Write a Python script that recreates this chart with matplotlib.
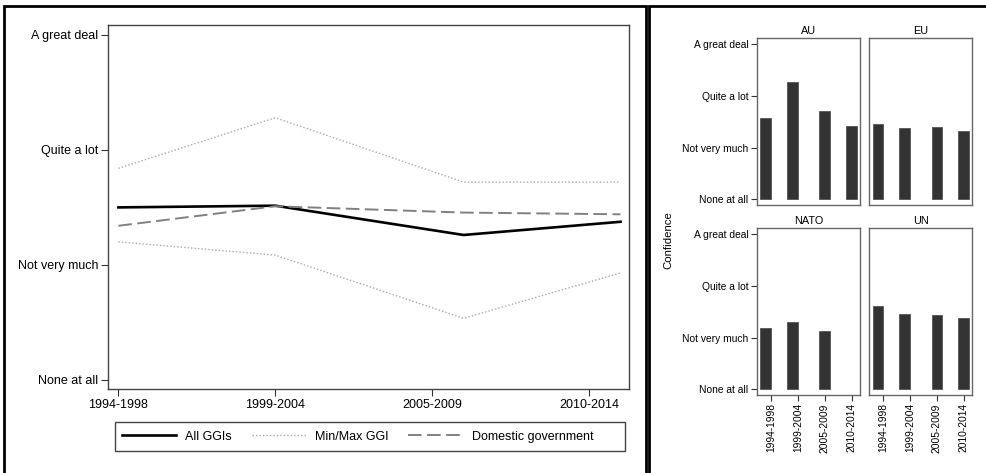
import matplotlib.pyplot as plt
from matplotlib.patches import Rectangle

plt.rcParams['font.family'] = ['Liberation Sans', 'DejaVu Sans']

# survey waves and the year each wave is plotted at
periods = ['1994-1998', '1999-2004', '2005-2009', '2010-2014']
survey_year = [1996, 2001, 2007, 2012]

levels = ['None at all', 'Not very much', 'Quite a lot', 'A great deal']

# left chart: mean confidence (1 = none at all, 4 = a great deal)
all_ggis = [2.50, 2.515, 2.26, 2.375]
max_ggi = [2.84, 3.28, 2.72, 2.72]
min_ggi = [2.20, 2.085, 1.535, 1.93]
domestic = [2.34, 2.51, 2.455, 2.44]

# right chart: mean confidence per organisation
orgs = ['AU', 'EU', 'NATO', 'UN']
org_conf = {
    'AU': [2.58, 3.27, 2.71, 2.41],
    'EU': [2.45, 2.38, 2.39, 2.32],
    'NATO': [2.19, 2.30, 2.12, None],
    'UN': [2.60, 2.46, 2.43, 2.38],
}

W, H = 986, 473
fig = plt.figure(figsize=(W / 100, H / 100), dpi=100)

def box(x0, y0, x1, y1):
    # pixel coords (top-left origin) -> figure fraction
    return [x0 / W, 1 - y1 / H, (x1 - x0) / W, (y1 - y0) / H]

fs_left = 9
fs = 7.4

# ---- left chart ----
ax = fig.add_axes(box(108, 25, 629, 389))
ax.plot(survey_year, all_ggis, color='black', lw=1.9, label='All GGIs')
ax.plot(survey_year, max_ggi, color='#a8a8a8', lw=1, ls=(0, (1, 1.5)), label='Min/Max GGI')
ax.plot(survey_year, min_ggi, color='#a8a8a8', lw=1, ls=(0, (1, 1.5)))
ax.plot(survey_year, domestic, color='#808080', lw=1.4, ls=(0, (7, 2.8)), label='Domestic government')
ax.set_xlim(1995.67, 2012.27)
ax.set_ylim(0.92, 4.087)
ax.set_yticks([1, 2, 3, 4])
ax.set_yticklabels(levels, fontsize=fs_left)
ax.set_xticks([1996, 2001, 2006, 2011])
ax.set_xticklabels(periods, fontsize=fs_left)
ax.tick_params(length=5, width=0.8, color='#333333', pad=2)
for s in ax.spines.values():
    s.set_color('#444444')
    s.set_linewidth(1)

leg = fig.legend(loc='center left', bbox_to_anchor=(122 / W, 1 - 436.5 / H),
                 ncol=3, fontsize=fs_left, frameon=False, handlelength=4.3,
                 handletextpad=0.75, columnspacing=1.6, borderaxespad=0, borderpad=0)
fig.patches.append(Rectangle((115 / W, 1 - 451 / H), (625 - 115) / W, 29 / H,
                             transform=fig.transFigure, fill=False, lw=1, ec='#444444'))

# ---- right chart: small multiples ----
panels = {
    'AU': (756.7, 38.3, 860.3, 205),
    'EU': (869, 38.3, 972.3, 205),
    'NATO': (756.7, 228.3, 860.3, 395),
    'UN': (869, 228.3, 972.3, 395),
}
for i, org in enumerate(orgs):
    a = fig.add_axes(box(*panels[org]))
    vals = org_conf[org]
    xs = [x for x, v in zip(survey_year, vals) if v is not None]
    hs = [v - 1 for v in vals if v is not None]
    a.bar(xs, hs, bottom=1, width=2, color='#333333', edgecolor='#555555', linewidth=0.6)
    a.set_xlim(1994.34, 2013.6)
    a.set_ylim(0.89, 4.11)
    a.set_title(org, fontsize=7.8, pad=3)
    for s in a.spines.values():
        s.set_color('#666666')
        s.set_linewidth(1)
    if i % 2 == 0:
        a.set_yticks([1, 2, 3, 4])
        a.set_yticklabels(levels, fontsize=fs)
    else:
        a.set_yticks([])
    if i >= 2:
        a.set_xticks([1997, 2002, 2007, 2012])
        a.set_xticklabels(periods, fontsize=fs, rotation=90)
    else:
        a.set_xticks([])
    a.tick_params(length=4, width=0.8, color='#333333', pad=2)

fig.text(668 / W, 1 - 240 / H, 'Confidence', rotation=90, fontsize=8.2, ha='center', va='center')

# frames around the two sub-figures
fig.patches.append(Rectangle((4 / W, -0.02), (646 - 4) / W, 1.02 - 6 / H, transform=fig.transFigure,
                             fill=False, lw=2, ec='black'))
fig.patches.append(Rectangle((649 / W, -0.02), 1.0, 1.02 - 6 / H, transform=fig.transFigure,
                             fill=False, lw=2, ec='black'))

fig.savefig('out.png', dpi=100)
